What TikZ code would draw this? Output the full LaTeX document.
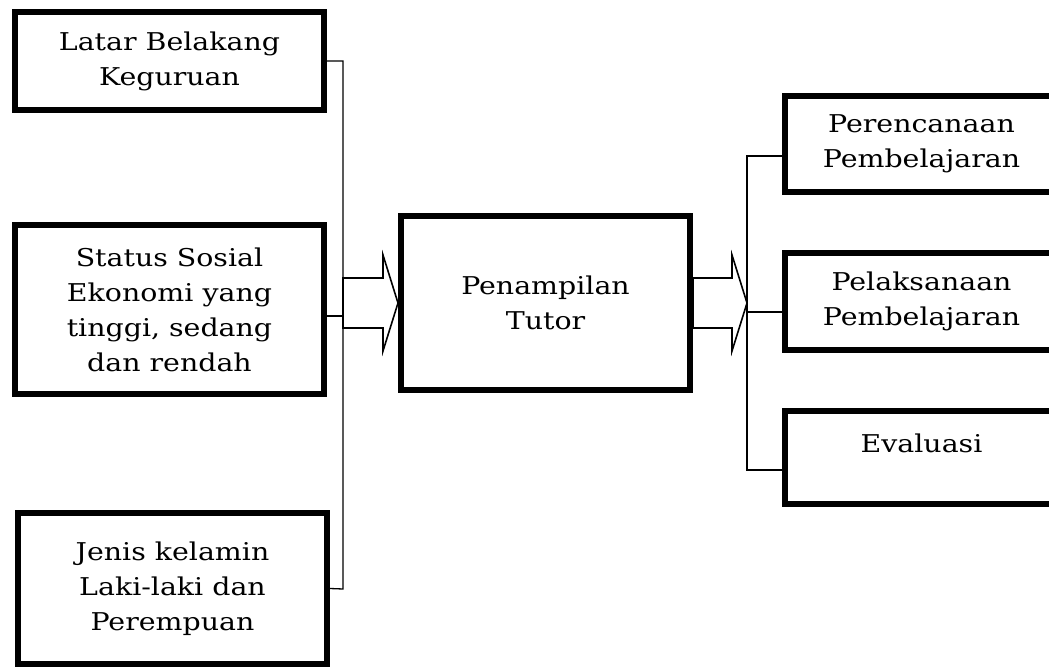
\documentclass[tikz,border=0pt]{standalone}
\usepackage{fontspec}
\setmainfont{DejaVu Serif}[FakeStretch=1.16]
\usetikzlibrary{positioning,calc}
\newcommand{\fatarrow}[2]{%
  \draw[blockarr] ($(#1)+(0,-25)$) -- ($(#2)+(-15,-25)$) -- ($(#2)+(-15,-48)$) -- (#2)
    -- ($(#2)+(-15,48)$) -- ($(#2)+(-15,25)$) -- ($(#1)+(0,25)$) -- cycle;}

\begin{document}
\begin{tikzpicture}[x=1pt,y=-1pt,
  box/.style={draw=black,line width=6pt,fill=white,align=center,inner sep=0pt,
    font=\fontsize{24.5}{35}\selectfont},
  link/.style={draw=black,line width=1.3pt},
  blockarr/.style={draw=black,line width=1.6pt,fill=white,line join=miter}]
  \useasboundingbox (0,0) rectangle (1049,668);
  % left column
  \node[box,minimum width=309pt,minimum height=98pt] (latar) at (169.5,61) {Latar Belakang\\Keguruan};
  \node[box,minimum width=309pt,minimum height=169pt] (status) at (169.5,309.5) {Status Sosial\\Ekonomi yang\\tinggi, sedang\\dan rendah};
  \node[box,minimum width=309pt,minimum height=151pt] (jenis) at (172.5,588.5) {Jenis kelamin\\Laki-laki dan\\Perempuan};
  % middle
  \node[box,minimum width=289pt,minimum height=174pt] (tutor) at (545.5,303) {Penampilan\\Tutor};
  % right column (runs off the page)
  \node[box,minimum width=273pt,minimum height=96pt] (rencana) at (921.5,144) {Perencanaan\\Pembelajaran};
  \node[box,minimum width=273pt,minimum height=97pt] (laksana) at (921.5,301.5) {Pelaksanaan\\Pembelajaran};
  \node[box,minimum width=273pt,minimum height=93pt,text depth=29pt] (evaluasi) at (921.5,457.5) {Evaluasi};
  \coordinate (lbus) at (343,589);
  \coordinate (rbus) at (747,303);
  \fatarrow{lbus |- tutor.west}{tutor.west}
  \fatarrow{tutor.east}{rbus}
  \draw[link] (latar.east) -| (lbus) -- (jenis.east);
  \draw[link] ([yshift=-6.5pt]status.east) -- ([yshift=-6.5pt]status.east -| lbus);
  \draw[link] ([yshift=-12pt]rencana.west) -| ([yshift=-12.5pt]evaluasi.west -| rbus) -- ([yshift=-12.5pt]evaluasi.west);
  \draw[link] ([yshift=-10.5pt]laksana.west) -- ([yshift=-10.5pt]laksana.west -| rbus);
\end{tikzpicture}
\end{document}
